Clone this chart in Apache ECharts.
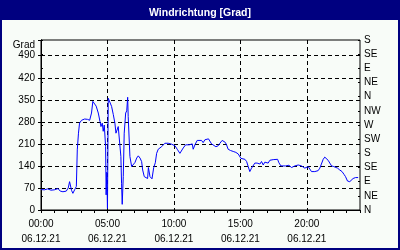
<!DOCTYPE html>
<html>
<head>
<meta charset="utf-8">
<script src="https://cdn.jsdelivr.net/npm/echarts@6/dist/echarts.min.js"></script>
<style>
html,body{margin:0;padding:0;background:#000080;}
#c{width:400px;height:250px;}
</style>
</head>
<body>
<div id="c"></div>
<script>
const chartTitle = 'Windrichtung [Grad]';
const dateLabel = '06.12.21';
const compassLabels = ['N','NE','E','SE','S','SW','W','NW','N','NE','E','SE','S'];
const hours = [0.00,0.25,0.5,0.75,1.0,1.28,1.45,1.65,1.9,2.05,2.15,2.3,2.4,2.55,2.66,2.73,2.82,2.9,3.05,3.28,3.5,3.66,3.8,3.9,4.03,4.15,4.31,4.44,4.51,4.61,4.68,4.76,4.86,4.9,4.95,5.0,5.06,5.12,5.19,5.31,5.44,5.56,5.64,5.71,5.81,5.86,6.01,6.06,6.11,6.19,6.26,6.37,6.45,6.52,6.56,6.69,6.82,6.94,7.07,7.2,7.32,7.45,7.57,7.65,7.77,7.9,8.02,8.08,8.2,8.35,8.48,8.6,8.7,8.82,8.95,9.07,9.2,9.32,9.45,9.57,9.7,9.83,9.95,10.08,10.28,10.45,10.58,10.7,10.88,11.03,11.15,11.28,11.38,11.45,11.58,11.75,11.9,12.08,12.2,12.33,12.46,12.6,12.71,12.83,12.96,13.16,13.33,13.46,13.63,13.76,13.86,13.96,14.08,14.26,14.46,14.66,14.84,14.96,15.04,15.17,15.34,15.47,15.59,15.71,15.84,15.96,16.09,16.26,16.47,16.59,16.72,16.84,16.97,17.09,17.22,17.35,17.47,17.59,17.8,17.9,18.05,18.2,18.4,18.55,18.65,18.72,18.85,18.97,19.1,19.22,19.35,19.47,19.6,19.72,19.85,19.97,20.1,20.23,20.35,20.47,20.6,20.73,20.85,20.98,21.1,21.23,21.35,21.48,21.6,21.73,21.86,22.03,22.16,22.31,22.48,22.65,22.8,22.91,23.06,23.23,23.36,23.48,23.66,23.86];
const degrees = [65,64,67,63,64,68,60,58,60,70,90,62,53,66,75,191,244,276,285,289,288,285,308,345,350,330,308,281,265,276,250,270,202,48,120,5,355,356,350,329,303,276,244,244,265,268,170,85,18,106,244,308,315,358,297,170,138,138,151,165,172,165,154,127,106,100,100,135,106,99,135,150,180,193,193,201,204,212,218,212,207,209,212,204,191,180,186,197,207,210,207,201,210,193,207,221,227,221,214,223,228,226,220,210,204,201,204,212,221,225,215,207,193,189,186,183,178,175,164,170,161,154,138,122,133,138,149,149,146,154,143,152,151,149,158,164,160,161,161,150,140,140,140,146,142,138,135,138,140,138,143,146,140,137,133,135,138,133,122,127,122,117,125,133,138,161,168,164,158,149,140,138,138,133,127,122,113,106,92,90,95,100,103,103];

const series = hours.map((h, i) => [h, degrees[i]]);
const font = 'Liberation Sans';
const chart = echarts.init(document.getElementById('c'), null, {renderer: 'canvas'});
chart.setOption({
  animation: false,
  backgroundColor: '#000080',
  textStyle: {fontFamily: font},
  title: {
    text: chartTitle,
    left: 'center',
    top: 3,
    textStyle: {color: '#ffffff', fontSize: 10.5, fontWeight: 'bold', fontFamily: font}
  },
  graphic: [{
    type: 'rect', z: -10, silent: true,
    shape: {x: 2, y: 20, width: 396, height: 228},
    style: {fill: '#f8fcf8'}
  }],
  grid: {left: 41, right: 40, top: 40, bottom: 40, show: true, borderColor: '#000', borderWidth: 1, backgroundColor: 'transparent'},
  xAxis: [{
    type: 'value', min: 0, max: 24, interval: 5,
    axisLine: {show: true, lineStyle: {color: '#000', width: 1}},
    axisTick: {show: false},
    axisLabel: {
      color: '#000', fontSize: 10, lineHeight: 15, margin: 7, showMaxLabel: false,
      formatter: v => (v % 5 === 0 && v < 24) ? (String(v).padStart(2, '0') + ':00\n' + dateLabel) : ''
    },
    splitLine: {show: true, showMinLine: false, showMaxLine: false, lineStyle: {color: '#000', type: [4, 3], width: 1}}
  }, {
    type: 'value', min: 0, max: 24, interval: 1, position: 'bottom',
    axisLine: {show: false},
    axisTick: {show: true, length: 3, lineStyle: {color: '#000'}},
    axisLabel: {show: false},
    splitLine: {show: false}
  }],
  yAxis: [{
    type: 'value', min: 0, max: 540, interval: 70, position: 'left',
    name: 'Grad', nameLocation: 'end', nameGap: -5,
    nameTextStyle: {color: '#000', fontSize: 10, align: 'right', verticalAlign: 'middle', padding: [0, 6, 0, 0]},
    axisLine: {show: true, lineStyle: {color: '#000'}},
    axisTick: {show: true, length: 3, lineStyle: {color: '#000'}},
    axisLabel: {color: '#000', fontSize: 10, margin: 6, formatter: v => v === 540 ? '' : String(v)},
    splitLine: {show: true, showMinLine: false, showMaxLine: false, lineStyle: {color: '#000', type: [4, 3], width: 1}}
  }, {
    type: 'value', min: 0, max: 540, interval: 45, position: 'right',
    axisLine: {show: true, lineStyle: {color: '#000'}},
    axisTick: {show: true, length: 2, lineStyle: {color: '#000'}},
    axisLabel: {color: '#000', fontSize: 10, margin: 4, formatter: v => compassLabels[Math.round(v / 45)] || ''},
    splitLine: {show: false}
  }, {
    type: 'value', min: 0, max: 540, interval: 45, position: 'right',
    axisLine: {show: false},
    axisTick: {show: true, inside: true, length: 2, lineStyle: {color: '#000'}},
    axisLabel: {show: false},
    splitLine: {show: false}
  }],
  series: [{
    type: 'line', xAxisIndex: 0, yAxisIndex: 0,
    data: series, showSymbol: false, symbol: 'none',
    lineStyle: {color: '#0000ff', width: 1},
    itemStyle: {color: '#0000ff'}
  }]
});
</script>
</body>
</html>
